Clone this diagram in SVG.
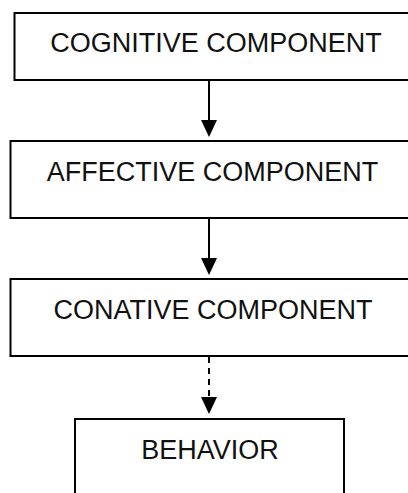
<svg xmlns="http://www.w3.org/2000/svg" width="408" height="493" viewBox="0 0 408 493">
  <style>
    .box { fill: #ffffff; stroke: #000000; stroke-width: 2; }
    .label { font-family: "Liberation Sans", Arial, sans-serif; font-size: 27px; fill: #111111; text-anchor: middle; }
    .link { stroke: #000000; stroke-width: 2; fill: none; }
    .dashed { stroke-dasharray: 6 5; }
    .head { fill: #000000; }
  </style>
  <defs>
    <!-- downward-pointing arrowhead, tip at (0,0) -->
    <path id="head" class="head" d="M-8,-17 L8,-17 L0,0 Z"/>
  </defs>
  <rect width="408" height="493" fill="#ffffff"/>

  <g id="cognitive">
    <rect class="box" x="14.5" y="13" width="410" height="67"/>
    <text class="label" x="216" y="52">COGNITIVE COMPONENT</text>
  </g>

  <g id="affective">
    <rect class="box" x="10.5" y="141" width="414" height="77"/>
    <text class="label" x="212.5" y="181">AFFECTIVE COMPONENT</text>
  </g>

  <g id="conative">
    <rect class="box" x="10.5" y="279" width="414" height="77"/>
    <text class="label" x="213" y="319">CONATIVE COMPONENT</text>
  </g>

  <g id="behavior">
    <rect class="box" x="75" y="419" width="269" height="90"/>
    <text class="label" x="210" y="459">BEHAVIOR</text>
  </g>

  <g id="connectors">
    <line class="link" x1="209" y1="80" x2="209" y2="121"/>
    <use href="#head" x="209" y="137"/>
    <line class="link" x1="209" y1="218" x2="209" y2="259"/>
    <use href="#head" x="209" y="275"/>
    <line class="link dashed" x1="209" y1="357" x2="209" y2="397"/>
    <use href="#head" x="209" y="414"/>
  </g>
</svg>
